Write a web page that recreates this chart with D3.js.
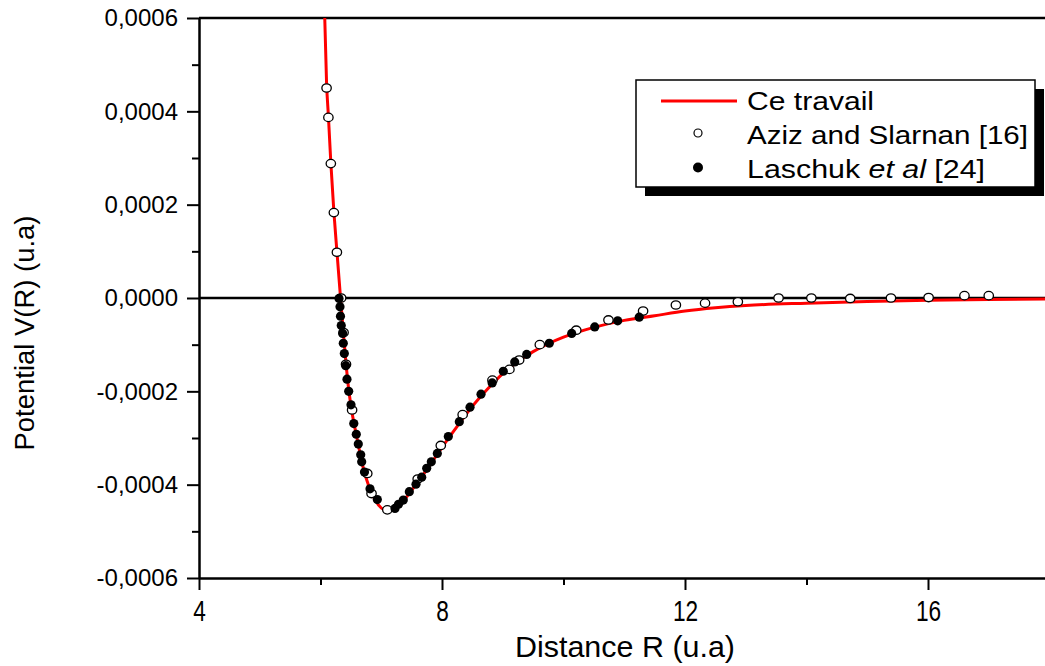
<!DOCTYPE html>
<html><head><meta charset="utf-8">
<script src="https://cdn.jsdelivr.net/npm/d3@7"></script>
<style>
html,body{margin:0;padding:0;background:#fff;}
svg{display:block;font-family:"Liberation Sans",Arial,sans-serif;}
</style></head>
<body>
<script>
// ---- data ----
const curveR = [6.07,6.10,6.13,6.17,6.22,6.27,6.33,6.38,6.45,6.50,6.60,6.70,6.80,6.90,7.00,7.10,7.20,7.30,7.40,7.50,7.75,8.00,8.25,8.50,8.75,9.00,9.25,9.50,9.75,10.00,10.50,11.00,11.50,12.00,12.50,13.00,14.00,15.00,16.00,17.00,18.00];
const curveV = [6.00,4.60,3.90,2.90,1.85,1.00,0.00,-0.80,-1.80,-2.30,-3.00,-3.62,-4.05,-4.33,-4.50,-4.56,-4.53,-4.45,-4.29,-4.12,-3.68,-3.20,-2.75,-2.32,-1.95,-1.62,-1.36,-1.15,-0.98,-0.84,-0.63,-0.48,-0.38,-0.28,-0.21,-0.16,-0.11,-0.075,-0.05,-0.03,-0.02].map(v=>v*1e-4);

const azizR = [6.10,6.13,6.17,6.22,6.27,6.34,6.38,6.42,6.52,6.77,6.84,7.10,7.60,7.98,8.34,8.83,9.11,9.27,9.61,10.21,10.74,11.31,11.85,12.33,12.87,13.54,14.08,14.72,15.39,16.01,16.60,17.00];
const azizV = [4.50,3.87,2.88,1.83,0.98,0.00,-0.74,-1.42,-2.40,-3.76,-4.19,-4.54,-3.88,-3.16,-2.50,-1.76,-1.53,-1.33,-1.00,-0.69,-0.47,-0.28,-0.15,-0.11,-0.08,0.00,0.00,-0.01,0.00,0.01,0.05,0.05].map(v=>v*1e-4);

const laschukR = [6.305,6.321,6.329,6.342,6.365,6.375,6.392,6.416,6.436,6.464,6.502,6.548,6.589,6.622,6.662,6.678,6.724,6.815,6.935,7.226,7.284,7.363,7.462,7.572,7.666,7.748,7.824,7.923,8.104,8.285,8.461,8.642,8.826,9.009,9.197,9.394,9.766,10.135,10.514,10.892,11.246];
const laschukV = [-0.01,-0.19,-0.39,-0.59,-0.76,-0.97,-1.19,-1.45,-1.74,-2.00,-2.29,-2.69,-2.92,-3.13,-3.36,-3.51,-3.73,-4.09,-4.32,-4.51,-4.42,-4.33,-4.15,-3.99,-3.84,-3.65,-3.51,-3.33,-2.97,-2.65,-2.34,-2.06,-1.82,-1.57,-1.37,-1.21,-0.97,-0.76,-0.62,-0.49,-0.41].map(v=>v*1e-4);

const xTicks = [4,8,12,16];
const xMinor = [6,10,14];
const yTicks = [-0.0006,-0.0004,-0.0002,0,0.0002,0.0004,0.0006];
const yMinor = [-0.0005,-0.0003,-0.0001,0.0001,0.0003,0.0005];
const legendLabels = ["Ce travail","Aziz and Slarnan [16]","Laschuk ","et al"," [24]"];
const xTitle = "Distance R (u.a)";
const yTitle = "Potential V(R) (u.a)";

// ---- layout ----
const W=1045,H=666;
const L=199, T=18, B=578;
const x = d3.scaleLinear().domain([4,18]).range([L, L+14*60.75]);
const y = d3.scaleLinear().domain([-0.0006,0.0006]).range([B,T]);
const R = x.range()[1];

const svg = d3.select("body").append("svg").attr("width",W).attr("height",H);
svg.append("defs").append("clipPath").attr("id","clip")
  .append("rect").attr("x",L).attr("y",T).attr("width",R-L).attr("height",B-T);

const fmt = v => d3.format(".4f")(v).replace(".",",").replace("\u2212","-");

// zero line
svg.append("line").attr("x1",L).attr("x2",R).attr("y1",y(0)).attr("y2",y(0))
  .attr("stroke","#000").attr("stroke-width",2.4);
// top frame line
svg.append("line").attr("x1",L).attr("x2",R).attr("y1",T).attr("y2",T)
  .attr("stroke","#000").attr("stroke-width",2.5);

// left axis
const yAx = svg.append("g").attr("transform",`translate(${L},0)`)
  .call(d3.axisLeft(y).tickValues(yTicks).tickFormat(fmt).tickSize(12).tickSizeOuter(0).tickPadding(9));
svg.append("g").attr("transform",`translate(${L},0)`)
  .call(d3.axisLeft(y).tickValues(yMinor).tickFormat("").tickSize(7).tickSizeOuter(0))
  .select(".domain").remove();
yAx.selectAll("text").attr("font-size",24).attr("font-family","Liberation Sans, Arial, sans-serif").attr("fill","#000");

// bottom axis
const xAx = svg.append("g").attr("transform",`translate(0,${B})`)
  .call(d3.axisBottom(x).tickValues(xTicks).tickFormat(d3.format("d")).tickSize(12).tickSizeOuter(0).tickPadding(10));
svg.append("g").attr("transform",`translate(0,${B})`)
  .call(d3.axisBottom(x).tickValues(xMinor).tickFormat("").tickSize(7).tickSizeOuter(0))
  .select(".domain").remove();
xAx.selectAll("text").attr("font-size",29).attr("font-family","Liberation Sans, Arial, sans-serif").attr("fill","#000")
  .each(function(){ const w=this.getComputedTextLength(); d3.select(this).attr("textLength",w*0.78).attr("lengthAdjust","spacingAndGlyphs"); });

svg.selectAll(".domain").attr("stroke-width",2.5);
svg.selectAll(".tick line").attr("stroke-width",2);

// curve
const line = d3.line().x(d=>x(d[0])).y(d=>y(d[1])).curve(d3.curveMonotoneX);
svg.append("path").datum(curveR.map((r,i)=>[r,curveV[i]]))
  .attr("clip-path","url(#clip)")
  .attr("d",line).attr("fill","none").attr("stroke","#ff0000").attr("stroke-width",3);

// Aziz open circles
svg.append("g").selectAll("ellipse").data(azizR.map((r,i)=>[r,azizV[i]])).join("ellipse")
  .attr("cx",d=>x(d[0])).attr("cy",d=>y(d[1])).attr("rx",4.7).attr("ry",4.2)
  .attr("fill","#fff").attr("stroke","#000").attr("stroke-width",1.3);
// Laschuk filled
svg.append("g").selectAll("circle").data(laschukR.map((r,i)=>[r,laschukV[i]])).join("circle")
  .attr("cx",d=>x(d[0])).attr("cy",d=>y(d[1])).attr("r",4.6).attr("fill","#000");

// titles
svg.append("text").attr("x",625).attr("y",657).attr("text-anchor","middle")
  .attr("font-size",30).attr("fill","#000").attr("textLength",220).attr("lengthAdjust","spacingAndGlyphs").text(xTitle);
svg.append("text").attr("transform","translate(34,333) rotate(-90)").attr("text-anchor","middle")
  .attr("font-size",27).attr("fill","#000").attr("textLength",235).attr("lengthAdjust","spacingAndGlyphs").text(yTitle);

// legend
const lg = svg.append("g");
lg.append("rect").attr("x",645).attr("y",89).attr("width",399).attr("height",107).attr("fill","#000");
lg.append("rect").attr("x",636).attr("y",80).attr("width",399).attr("height",107).attr("fill","#fff").attr("stroke","#000").attr("stroke-width",1.5);
lg.append("line").attr("x1",661).attr("x2",737).attr("y1",101).attr("y2",101).attr("stroke","#ff0000").attr("stroke-width",3);
lg.append("circle").attr("cx",698).attr("cy",133).attr("r",4).attr("fill","#fff").attr("stroke","#000").attr("stroke-width",1.2);
lg.append("circle").attr("cx",698).attr("cy",167.5).attr("r",5).attr("fill","#000");
const lt = (yy)=>lg.append("text").attr("x",747).attr("y",yy).attr("font-size",25).attr("fill","#000").attr("lengthAdjust","spacingAndGlyphs");
lt(110).text(legendLabels[0]).attr("textLength",127);
lt(144).text(legendLabels[1]).attr("textLength",281);
const t3 = lt(178).attr("textLength",238);
t3.append("tspan").text(legendLabels[2]);
t3.append("tspan").attr("font-style","italic").text(legendLabels[3]);
t3.append("tspan").text(legendLabels[4]);
</script>
</body></html>
